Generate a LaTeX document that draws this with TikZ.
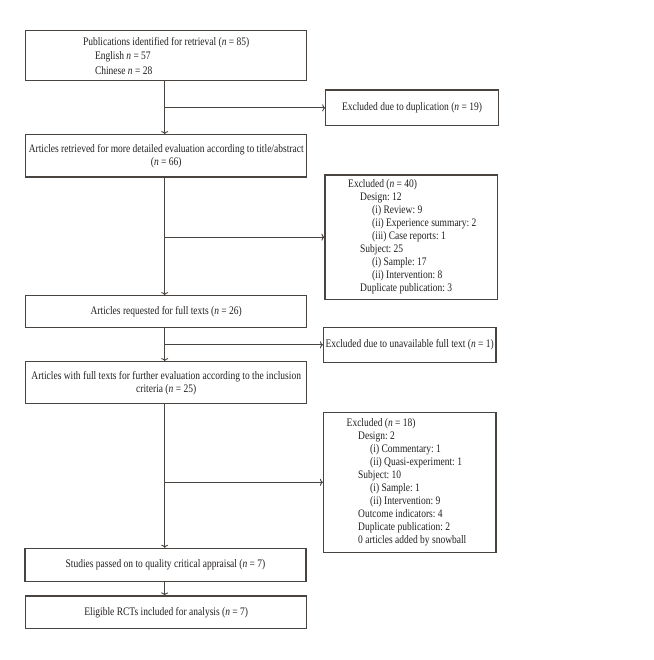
\documentclass[tikz,border=0pt]{standalone}
\usepackage{fontspec}
\setmainfont{Liberation Serif}[FakeStretch=0.826]
\usetikzlibrary{arrows.meta}
\newcommand\myn{\textit{n}}
\definecolor{linec}{HTML}{4A4440}
\definecolor{txtc}{HTML}{231F20}
\frenchspacing
\begin{document}
\begin{tikzpicture}[x=1pt,y=-1pt,
  every node/.style={text=txtc, font=\fontsize{11.5}{13}\selectfont, inner sep=0pt},
  mainbox/.style={draw=linec, line width=1.1pt, minimum width=281pt, align=center},
  exbox/.style={draw=linec, line width=1.1pt, minimum width=172.5pt, align=center},
  arr/.style={draw=linec, line width=0.9pt, -{To[length=3pt,width=7pt]}}]
\useasboundingbox (0,0) rectangle (653,660);
\coordinate (sp) at (164.7,0);
% main boxes
\node[mainbox, minimum height=50pt, align=left] (b1) at (166.2,55.7)
  {\makebox[281pt]{Publications identified for retrieval (\myn{} = 85)}\\[1.5pt]
   \hspace*{69.3pt}English \myn{} = 57\\[1.5pt]
   \hspace*{69.3pt}Chinese \myn{} = 28};
\node[mainbox, minimum height=42.3pt] (b2) at (166.2,155.85)
  {Articles retrieved for more detailed evaluation according to title/abstract\\(\myn{} = 66)};
\node[mainbox, minimum height=31.6pt] (b3) at (166.2,311.5)
  {Articles requested for full texts (\myn{} = 26)};
\node[mainbox, minimum height=42pt] (b4) at (166.2,382.7)
  {Articles with full texts for further evaluation according to the inclusion\\criteria (\myn{} = 25)};
\node[mainbox, minimum height=32.7pt] (b5) at (165.5,564.7)
  {Studies passed on to quality critical appraisal (\myn{} = 7)};
\node[mainbox, minimum height=32.7pt] (b6) at (166.2,612.35)
  {Eligible RCTs included for analysis (\myn{} = 7)};
% exclusion boxes
\node[exbox, minimum height=35.7pt] (e1) at (412,107.85)
  {Excluded due to duplication (\myn{} = 19)};
\node[exbox, minimum height=124.3pt] (e2) at (411.2,237.15) {};
\node[anchor=west, align=left] (e2t) at ([xshift=23.6pt]e2.west)
  {Excluded (\myn{} = 40)\\
   \hspace*{12pt}Design: 12\\
   \hspace*{24pt}(i) Review: 9\\
   \hspace*{24pt}(ii) Experience summary: 2\\
   \hspace*{24pt}(iii) Case reports: 1\\
   \hspace*{12pt}Subject: 25\\
   \hspace*{24pt}(i) Sample: 17\\
   \hspace*{24pt}(ii) Intervention: 8\\
   \hspace*{12pt}Duplicate publication: 3};
\node[exbox, minimum height=35pt] (e3) at (409.7,344.8)
  {Excluded due to unavailable full text (\myn{} = 1)};
\node[exbox, minimum height=140pt] (e4) at (409.7,482.3) {};
\node[anchor=west, align=left] (e4t) at ([xshift=23.6pt]e4.west)
  {Excluded (\myn{} = 18)\\
   \hspace*{11.5pt}Design: 2\\
   \hspace*{23.5pt}(i) Commentary: 1\\
   \hspace*{23.5pt}(ii) Quasi-experiment: 1\\
   \hspace*{11.5pt}Subject: 10\\
   \hspace*{23.5pt}(i) Sample: 1\\
   \hspace*{23.5pt}(ii) Intervention: 9\\
   \hspace*{11.5pt}Outcome indicators: 4\\
   \hspace*{11.5pt}Duplicate publication: 2\\
   \hspace*{11.5pt}0 articles added by snowball};
% connectors
\draw[arr] (b1.south -| sp) -- (b2.north -| sp);
\draw[arr] (b2.south -| sp) -- (b3.north -| sp);
\draw[arr] (b3.south -| sp) -- (b4.north -| sp);
\draw[arr] (b4.south -| sp) -- (b5.north -| sp);
\draw[arr] (b5.south -| sp) -- (b6.north -| sp);
\draw[arr] (e1.west -| sp) -- (e1.west);
\draw[arr] (e2.west -| sp) -- (e2.west);
\draw[arr] (e3.west -| sp) -- (e3.west);
\draw[arr] (e4.west -| sp) -- (e4.west);
\end{tikzpicture}
\end{document}
